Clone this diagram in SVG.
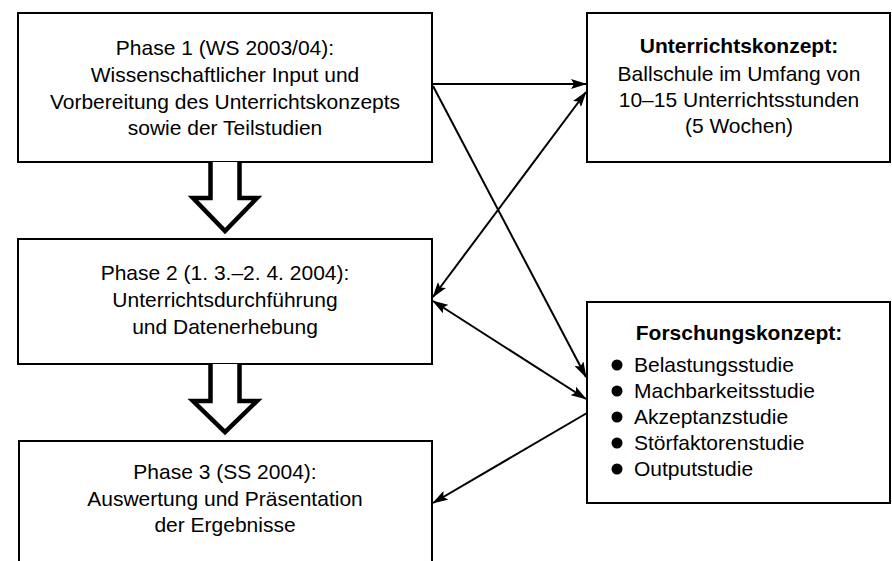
<svg xmlns="http://www.w3.org/2000/svg" width="892" height="561" viewBox="0 0 892 561">
<style>
.box{fill:#fff;stroke:#000;stroke-width:2}
.t{font-family:"Liberation Sans",Arial,sans-serif;font-size:21px;fill:#000;text-anchor:middle}
.b{font-weight:bold}
.l{text-anchor:start}
.blk{fill:#fff;stroke:#000;stroke-width:4.5;stroke-linejoin:miter}
.c{fill:none;stroke:#000;stroke-width:2}
</style>
<defs>
<marker id="ah" viewBox="0 0 16 10" refX="15" refY="5" markerWidth="16" markerHeight="10" markerUnits="userSpaceOnUse" orient="auto-start-reverse">
<path d="M0,0 L16,5 L0,10 L3,5 z" fill="#000"/>
</marker>
</defs>
<rect width="892" height="561" fill="#fff"/>
<g id="phase1">
<rect class="box" x="18" y="13" width="414" height="149"/>
<text class="t" x="225" y="55">Phase 1 (WS 2003/04):</text>
<text class="t" x="225" y="82">Wissenschaftlicher Input und</text>
<text class="t" x="225" y="109">Vorbereitung des Unterrichtskonzepts</text>
<text class="t" x="225" y="135">sowie der Teilstudien</text>
</g>
<g id="phase2">
<rect class="box" x="18" y="239" width="414" height="125"/>
<text class="t" x="225" y="280">Phase 2 (1. 3.–2. 4. 2004):</text>
<text class="t" x="225" y="307">Unterrichtsdurchführung</text>
<text class="t" x="225" y="334">und Datenerhebung</text>
</g>
<g id="phase3">
<rect class="box" x="19" y="441" width="413" height="140"/>
<text class="t" x="225" y="479">Phase 3 (SS 2004):</text>
<text class="t" x="225" y="506">Auswertung und Präsentation</text>
<text class="t" x="225" y="532">der Ergebnisse</text>
</g>
<g id="unterrichtskonzept">
<rect class="box" x="587" y="13" width="303" height="149"/>
<text class="t b" x="739" y="53">Unterrichtskonzept:</text>
<text class="t" x="739" y="81">Ballschule im Umfang von</text>
<text class="t" x="739" y="107">10–15 Unterrichtsstunden</text>
<text class="t" x="739" y="133">(5 Wochen)</text>
</g>
<g id="forschungskonzept">
<rect class="box" x="587" y="302" width="303" height="201"/>
<text class="t b" x="739" y="340">Forschungskonzept:</text>
<g>
<circle cx="617" cy="365" r="5.5"/><text class="t l" x="634" y="372">Belastungsstudie</text>
<circle cx="617" cy="391" r="5.5"/><text class="t l" x="634" y="398">Machbarkeitsstudie</text>
<circle cx="617" cy="417" r="5.5"/><text class="t l" x="634" y="424">Akzeptanzstudie</text>
<circle cx="617" cy="443" r="5.5"/><text class="t l" x="634" y="450">Störfaktorenstudie</text>
<circle cx="617" cy="469" r="5.5"/><text class="t l" x="634" y="476">Outputstudie</text>
</g>
</g>
<g id="connectors">
<polyline class="blk" points="210.5,162 210.5,198 193,198 225,231 257,198 239.5,198 239.5,162"/>
<polyline class="blk" points="210.5,364 210.5,401 193,401 225,432 257,401 239.5,401 239.5,364"/>
<line class="c" x1="432" y1="84" x2="586" y2="84" marker-end="url(#ah)"/>
<line class="c" x1="433" y1="86" x2="586" y2="377" marker-end="url(#ah)"/>
<line class="c" x1="586" y1="92" x2="433" y2="297" marker-start="url(#ah)" marker-end="url(#ah)"/>
<line class="c" x1="433" y1="301" x2="586" y2="399" marker-start="url(#ah)" marker-end="url(#ah)"/>
<line class="c" x1="587" y1="413" x2="433" y2="503" marker-end="url(#ah)"/>
</g>
</svg>
